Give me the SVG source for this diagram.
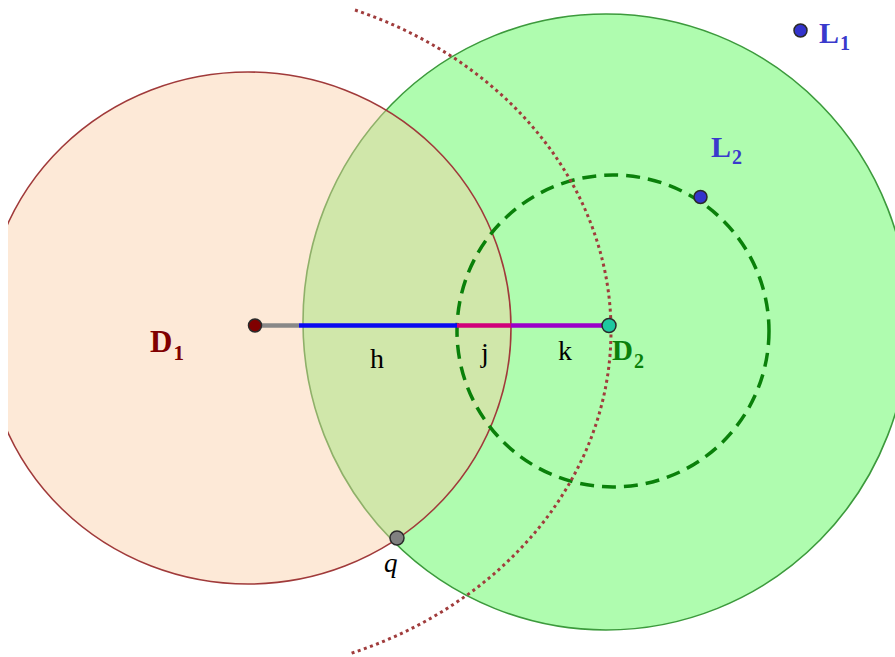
<svg xmlns="http://www.w3.org/2000/svg" width="895" height="657" viewBox="0 0 895 657">
  <style>
    .lbl { font-family: "Liberation Serif", "Times New Roman", serif; }
    .bold { font-weight: bold; }
    .pt { stroke: #2a2a2a; stroke-width: 1.5; }
    .seg { stroke-width: 4.5; fill: none; }
  </style>
  <rect x="0" y="0" width="895" height="657" fill="#ffffff"/>

  <g id="disk-D2">
    <ellipse cx="606" cy="322" rx="303" ry="308" fill="#affcaf" stroke="#3c9a3c" stroke-width="1.6"/>
  </g>
  <g id="disk-D1">
    <ellipse cx="248" cy="328" rx="263" ry="256" fill="rgb(250,205,164)" fill-opacity="0.44" stroke="#a03a3a" stroke-width="1.6"/>
  </g>
  <rect x="0" y="0" width="8" height="657" fill="#ffffff"/>

  <g id="circle-dashed">
    <circle cx="613" cy="331" r="156" fill="none" stroke="#0a800a" stroke-width="3.5" stroke-dasharray="14 8"/>
  </g>
  <g id="arc-dotted">
    <path d="M 355 10 A 404 345 0 0 1 349 654" fill="none" stroke="#a03c3c" stroke-width="3" stroke-dasharray="3 3.5"/>
  </g>

  <g id="connectors">
    <line class="seg" x1="255" y1="325.5" x2="299" y2="325.5" stroke="#888888"/>
    <line class="seg" x1="299" y1="325.5" x2="457" y2="325.5" stroke="#0a0af0"/>
    <line class="seg" x1="457" y1="325.5" x2="511" y2="325.5" stroke="#d0007a"/>
    <line class="seg" x1="511" y1="325.5" x2="606" y2="325.5" stroke="#9a00c8"/>
  </g>

  <g id="seg-labels" class="lbl" fill="#000000" font-size="28">
    <text x="370" y="368">h</text>
    <text x="481" y="362">j</text>
    <text x="558" y="360">k</text>
  </g>

  <g id="point-D1">
    <circle class="pt" cx="255" cy="325.5" r="6.5" fill="#800000"/>
    <text class="lbl bold" x="150" y="352" font-size="31" fill="#800000">D<tspan dx="1" dy="8" font-size="21">1</tspan></text>
  </g>
  <g id="point-D2">
    <circle class="pt" cx="609" cy="325.5" r="7" fill="#1ec8a0"/>
    <text class="lbl bold" x="612" y="360" font-size="29" fill="#0a800a">D<tspan dx="1" dy="8" font-size="20">2</tspan></text>
  </g>
  <g id="point-L1">
    <circle class="pt" cx="800.5" cy="30.5" r="6.5" fill="#3333cc"/>
    <text class="lbl bold" x="819" y="43" font-size="30" fill="#3a3acc">L<tspan dx="1" dy="7" font-size="20">1</tspan></text>
  </g>
  <g id="point-L2">
    <circle class="pt" cx="700.5" cy="197" r="6.5" fill="#3333cc"/>
    <text class="lbl bold" x="711" y="157" font-size="30" fill="#3a3acc">L<tspan dx="1" dy="7" font-size="20">2</tspan></text>
  </g>
  <g id="point-q">
    <circle class="pt" cx="397" cy="538" r="7" fill="#808080"/>
    <text class="lbl" x="384" y="572" font-size="27" font-style="italic" fill="#000000">q</text>
  </g>
</svg>
